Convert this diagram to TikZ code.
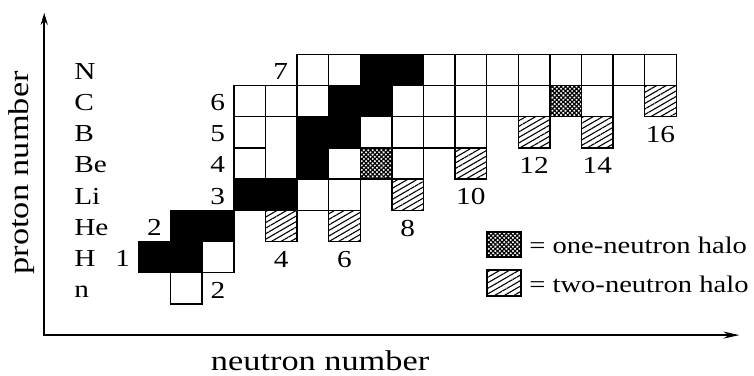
\documentclass[tikz,border=0pt]{standalone}
\usepackage{fontspec}
\setmainfont{Liberation Serif}[FakeStretch=1.2]
\usetikzlibrary{arrows.meta,patterns.meta}

\tikzset{
  nuc/.style={draw, line width=0.75pt},
  stable/.style={nuc, fill=black},
  onehalo/.style={nuc, pattern={Hatch[angle=45,distance=1.55pt,line width=0.6pt]}},
  twohalo/.style={nuc, pattern={Lines[angle=30,distance=2.4pt,line width=0.55pt]}},
  lbl/.style={font=\fontsize{12.2}{14}\selectfont, inner sep=0pt},
  leglbl/.style={font=\fontsize{11.9}{14}\selectfont, inner sep=0pt},
  axislbl/.style={font=\fontsize{14.3}{16}\selectfont, inner sep=0pt},
  axis/.style={line width=1pt, {Stealth[length=6pt,width=3.5pt]}-{Stealth[length=8pt,width=3.5pt]}}
}

\begin{document}
\begin{tikzpicture}[x=15.8pt, y=15.6pt]
  \useasboundingbox (-4.40,-2.31) rectangle (19.46,9.74);
  % Axes
  \coordinate (ytop) at (-3,9.33);
  \coordinate (orig) at (-3,-1);
  \coordinate (xend) at (19,-1);
  \draw[axis] (ytop) -- (orig) -- (xend);
  \node[axislbl, rotate=90] (zlabel) at (-3.72,4.2) {proton number};
  \node[axislbl] (nlabel) at (5.73,-1.83) {neutron number};
  % Bound nuclei (white)
  \foreach \n/\z in {1/0, 2/1, 5/3, 6/3, 3/4, 6/4, 8/4,
                     3/5, 7/5, 8/5, 9/5, 10/5,
                     3/6, 4/6, 5/6, 8/6, 9/6, 10/6, 11/6, 12/6, 14/6,
                     5/7, 6/7, 9/7, 10/7, 11/7, 12/7, 13/7, 14/7, 15/7, 16/7}
    \draw[nuc] (\n,\z) rectangle ++(1,1);
  \draw[nuc] (4,4) rectangle ++(1,2);
  % Stable nuclei (black)
  \foreach \n/\z in {0/1, 1/1, 1/2, 2/2, 3/3, 4/3, 5/4, 5/5, 6/5, 6/6, 7/6, 7/7, 8/7}
    \draw[stable] (\n,\z) rectangle ++(1,1);
  % Halo nuclei
  \foreach \n/\z in {7/4, 13/6}
    \draw[onehalo] (\n,\z) rectangle ++(1,1);
  \foreach \n/\z in {4/2, 6/2, 8/3, 10/4, 12/5, 14/5, 16/6}
    \draw[twohalo] (\n,\z) rectangle ++(1,1);
  % Element symbols
  \foreach \z/\el in {0/n, 1/H, 2/He, 3/Li, 4/Be, 5/B, 6/C, 7/N}
    \node[lbl, anchor=base west] (el\z) at (-2.06,\z+0.2) {\el};
  % Proton numbers
  \foreach \n/\z in {0/1, 1/2, 3/3, 3/4, 3/5, 3/6, 5/7}
    \node[lbl, anchor=base east] (zz\z) at (\n-0.27,\z+0.2) {\z};
  % Neutron numbers
  \foreach \n/\z in {2/0, 4/1, 6/1, 8/2, 10/3, 12/4, 14/4, 16/5}
    \node[lbl, anchor=base] (nn\n) at (\n+0.5,\z+0.17) {\n};
  % Legend
  \draw[onehalo] (11.01,1.51) rectangle (12.09,2.31);
  \draw[twohalo] (11.01,0.26) rectangle (12.09,1.09);
  \node[leglbl, anchor=base west] (leg1) at (12.34,1.63) {= one-neutron halo};
  \node[leglbl, anchor=base west] (leg2) at (12.34,0.37) {= two-neutron halo};
\end{tikzpicture}
\end{document}
